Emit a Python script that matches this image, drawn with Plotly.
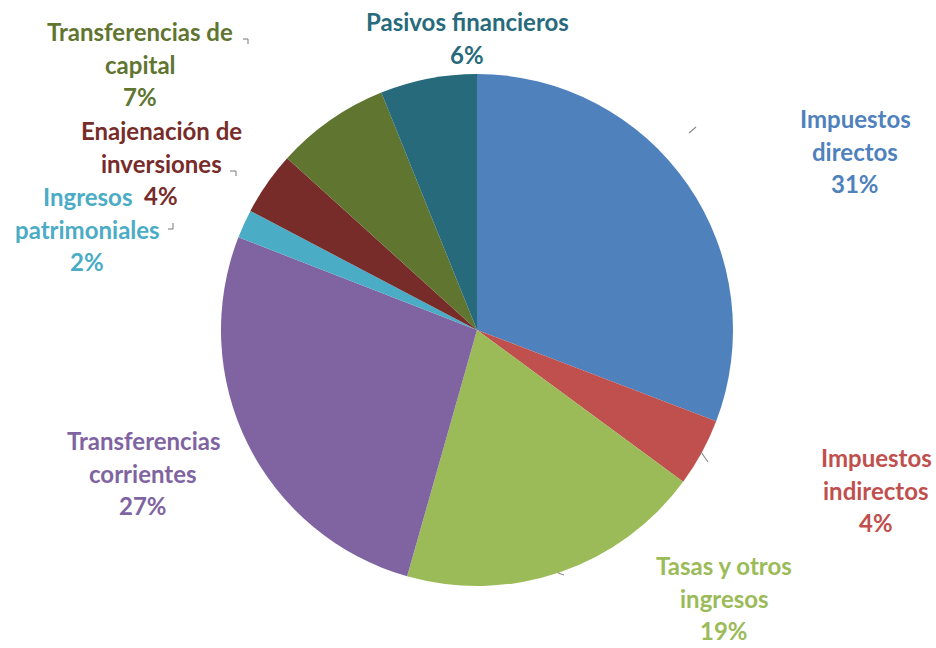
import plotly.graph_objects as go

W, H = 936, 648

categories = ["Impuestos directos", "Impuestos indirectos", "Tasas y otros ingresos",
              "Transferencias corrientes", "Ingresos patrimoniales",
              "Enajenación de inversiones", "Transferencias de capital", "Pasivos financieros"]
values = [30.8, 4.3, 19.3, 26.5, 1.8, 4.0, 7.2, 6.1]
pct_labels = ["31%", "4%", "19%", "27%", "2%", "4%", "7%", "6%"]
label_lines = [["Impuestos", "directos"], ["Impuestos", "indirectos"], ["Tasas y otros", "ingresos"],
               ["Transferencias", "corrientes"], ["Ingresos", "patrimoniales"],
               ["Enajenación de", "inversiones"], ["Transferencias de", "capital"], ["Pasivos financieros"]]
colors = ["#4F81BD", "#C0504D", "#9BBB59", "#8064A2", "#4BACC6", "#772C2A", "#5F7530", "#276A7C"]
text_colors = ["#4F81BD", "#C0504D", "#9BBB59", "#8064A2", "#4BACC6", "#772C2A", "#5F7530", "#276A7C"]

# label block centers in pixels (layout)
label_pos = [(855, 151), (876, 490), (724, 598), (143, 473), (87, 229), (161, 163), (140, 64), (467, 38)]
LINE_H = 32.5

fig = go.Figure(go.Pie(
    labels=categories, values=values, sort=False, direction="clockwise", rotation=0,
    marker=dict(colors=colors, line=dict(width=0)),
    textinfo="none", hoverinfo="label+percent", showlegend=False,
    domain=dict(x=[221 / W, 733 / W], y=[(H - 586) / H, (H - 74) / H]),
))

annotations = []
for lines, pct, col, (cx, cy) in zip(label_lines, pct_labels, text_colors, label_pos):
    all_lines = lines + [pct]
    n = len(all_lines)
    for i, t in enumerate(all_lines):
        py = cy + (i - (n - 1) / 2) * LINE_H
        annotations.append(dict(
            text=t, x=cx / W, y=1 - py / H, xref="paper", yref="paper",
            xanchor="center", yanchor="middle", showarrow=False,
            font=dict(family="Lato", size=24, color=col, weight="bold"),
        ))

# small leader marks
leader_segments = [
    [(689, 133), (696, 127)],
    [(701, 452), (708, 462)],
    [(558, 573), (564, 575)],
    [(243, 39), (248, 39), (248, 44)],
    [(230, 171), (236, 171), (236, 176)],
    [(173, 223), (173, 229), (168, 229)],
]
shapes = []
for seg in leader_segments:
    for (x0, y0), (x1, y1) in zip(seg[:-1], seg[1:]):
        shapes.append(dict(type="line", xref="paper", yref="paper",
                           x0=x0 / W, y0=1 - y0 / H, x1=x1 / W, y1=1 - y1 / H,
                           line=dict(color="#8C8C8C", width=1.2)))

fig.update_layout(
    width=W, height=H, margin=dict(l=0, r=0, t=0, b=0),
    paper_bgcolor="white", plot_bgcolor="white",
    annotations=annotations, shapes=shapes,
)

fig.write_html("out.html", config={"displayModeBar": False},
               post_script="document.body.style.margin='0';document.body.style.overflow='hidden';")
